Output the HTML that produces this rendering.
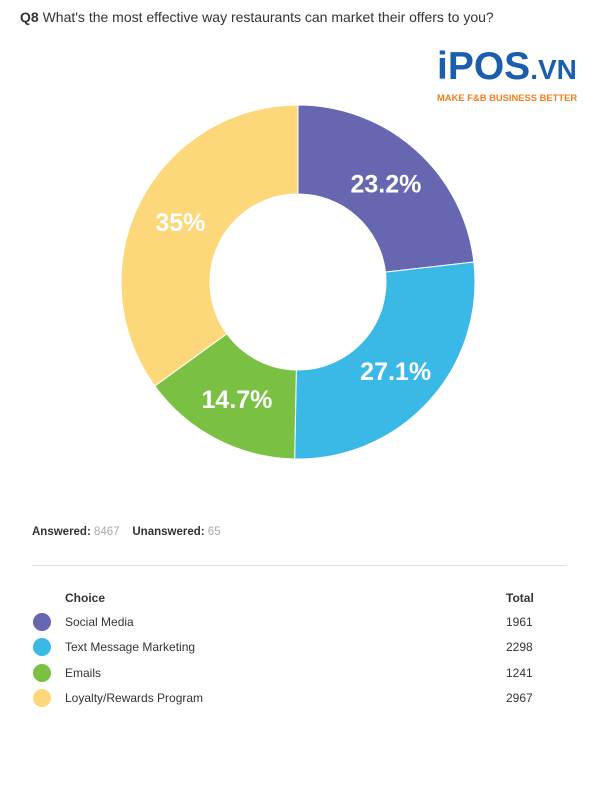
<!DOCTYPE html>
<html><head><meta charset="utf-8"><style>
body{margin:0;width:600px;height:800px;background:#fff;font-family:"Liberation Sans",sans-serif;position:relative;overflow:hidden}
.abs{position:absolute}
</style></head><body>
<div class="abs" style="left:20px;top:9px;font-size:14px;color:#333"><b>Q8</b> What's the most effective way restaurants can market their offers to you?</div>
<div class="abs" style="left:437px;top:50px;width:150px">
 <div style="font-size:39px;font-weight:bold;color:#1a5fad;letter-spacing:0px;line-height:34px">iPOS<span style="font-size:28px">.VN</span></div>
 <div style="font-size:9.4px;font-weight:bold;color:#f07f1e;margin-top:5px;white-space:nowrap">MAKE F&amp;B BUSINESS BETTER</div>
</div>
<svg class="abs" style="left:0;top:0" width="600" height="500" id="chart"></svg>
<div class="abs" style="left:32px;top:526px;font-size:11.5px;color:#333"><b>Answered:</b> <span style="color:#aaa">8467</span>&nbsp;&nbsp;&nbsp; <b>Unanswered:</b> <span style="color:#aaa">65</span></div>
<div class="abs" style="left:32px;top:565px;width:535px;height:1px;background:#e2e2ea"></div>
<div class="abs" style="left:65px;top:591px;font-size:12px;font-weight:bold;color:#333">Choice</div>
<div class="abs" style="left:506px;top:591px;font-size:12px;font-weight:bold;color:#333">Total</div>
<div id="legend"></div>
<script>
const categories=["Social Media","Text Message Marketing","Emails","Loyalty/Rewards Program"];
const totals=[1961,2298,1241,2967];
const percents=[23.2,27.1,14.7,35];
const labels=["23.2%","27.1%","14.7%","35%"];
const colors=["#6667b0","#3bb9e6","#7ac143","#fdd87a"];
const svg=document.getElementById('chart');const NS="http://www.w3.org/2000/svg";
const cx=298,cy=282,R=177,r=88;
const sum=percents.reduce((a,b)=>a+b,0);
let a0=-Math.PI/2;
function pt(rad,a){return [cx+rad*Math.cos(a),cy+rad*Math.sin(a)];}
percents.forEach((p,i)=>{
 const a1=a0+p/sum*2*Math.PI;const lg=(a1-a0)>Math.PI?1:0;
 const [x1,y1]=pt(R,a0),[x2,y2]=pt(R,a1),[x3,y3]=pt(r,a1),[x4,y4]=pt(r,a0);
 const path=document.createElementNS(NS,'path');
 path.setAttribute('d',`M${x1},${y1}A${R},${R} 0 ${lg} 1 ${x2},${y2}L${x3},${y3}A${r},${r} 0 ${lg} 0 ${x4},${y4}Z`);
 path.setAttribute('fill',colors[i]);path.setAttribute('stroke','#fff');path.setAttribute('stroke-width','1');
 
 
 svg.appendChild(path);
 const am=(a0+a1)/2;const [lx,ly]=pt(132,am);
 const t=document.createElementNS(NS,'text');
 t.setAttribute('x',lx);t.setAttribute('y',ly+9);t.setAttribute('text-anchor','middle');
 t.setAttribute('fill','#fff');t.setAttribute('font-size','25');t.setAttribute('font-weight','bold');
 t.setAttribute('font-family','Liberation Sans, sans-serif');t.textContent=labels[i];
 
 
 svg.appendChild(t);
 a0=a1;
});
const leg=document.getElementById('legend');
categories.forEach((c,i)=>{
 const y=622+i*25.3;
 const d=document.createElement('div');d.className='abs';
 d.style.cssText=`left:33px;top:${y-9}px;width:18px;height:18px;border-radius:50%;background:${colors[i]}`;
 
 
 leg.appendChild(d);
 const n=document.createElement('div');n.className='abs';
 n.style.cssText=`left:65px;top:${y-7}px;font-size:12px;color:#333`;n.textContent=c;
 
 
 leg.appendChild(n);
 const v=document.createElement('div');v.className='abs';
 v.style.cssText=`left:506px;top:${y-7}px;font-size:12px;color:#333`;v.textContent=totals[i];
 
 
 leg.appendChild(v);
});
</script>
</body></html>
